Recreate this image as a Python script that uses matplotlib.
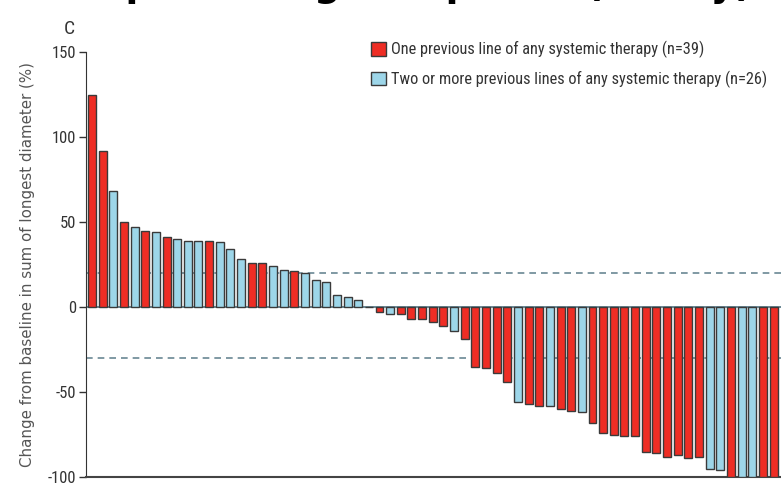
import matplotlib
matplotlib.use("Agg")
import matplotlib.pyplot as plt
import numpy as np
from matplotlib import font_manager

# best change from baseline per patient, sorted (waterfall)
change_pct = [
    125, 92, 68, 50, 47, 45, 44, 41, 40, 39, 39, 39, 38,
    34, 28, 26, 26, 24, 22, 21, 20, 16, 15, 7, 6, 4,
    0, -3, -4, -4, -7, -7, -9, -11, -14, -19, -35, -36, -39,
    -44, -56, -57, -58, -58, -60, -61, -62, -68, -74, -75, -76, -76,
    -85, -86, -88, -87, -89, -88, -95, -96, -100, -100, -100, -100, -100,
]
# 1 = one previous line, 2 = two or more previous lines
prior_lines = [int(c) for c in (
    "1121212122212"
    "2211221222222"
    "1121111121111"
    "1211211211111"
    "1111112212211"
)]

group_labels = {
    1: "One previous line of any systemic therapy (n=39)",
    2: "Two or more previous lines of any systemic therapy (n=26)",
}
group_colors = {1: "#ee2d24", 2: "#9dd6e9"}
reference_lines = [20, -30]
y_ticks = [150, 100, 50, 0, -50, -100]


def pick_font(names):
    for name in names:
        try:
            font_manager.findfont(name, fallback_to_default=False)
            return name
        except ValueError:
            continue
    return "DejaVu Sans"


narrow = pick_font(["Liberation Sans Narrow", "Arial Narrow", "Roboto Condensed"])
text_grey = "#333333"
line_grey = "#6a8794"

x = np.arange(len(change_pct))
values = np.array(change_pct)
groups = np.array(prior_lines)

fig = plt.figure(figsize=(7.81, 4.92), dpi=100)
ax = fig.add_axes([86 / 781, 1 - 477 / 492, 1 - 86 / 781, (477 - 52) / 492])

for y in reference_lines:
    ax.axhline(y, color=line_grey, linestyle=(0, (4, 3)), linewidth=1.2, zorder=1)
ax.axhline(0, color=line_grey, linewidth=1.4, zorder=1)

for g in (1, 2):
    mask = groups == g
    ax.bar(
        x[mask],
        values[mask],
        width=0.75,
        color=group_colors[g],
        edgecolor="#3a3a3a",
        linewidth=1.0,
        label=group_labels[g],
        zorder=3,
    )

ax.set_xlim(-0.56, 64.7)
ax.set_ylim(-100, 150)
ax.set_yticks(y_ticks)
ax.set_yticklabels([str(t) for t in y_ticks], family=narrow, fontsize=12, color=text_grey)
ax.set_xticks([])
ax.tick_params(axis="y", length=5, width=1, color=text_grey, pad=2)

for side in ("top", "right"):
    ax.spines[side].set_visible(False)
ax.spines["left"].set_color(text_grey)
ax.spines["bottom"].set_color("#444444")
ax.spines["bottom"].set_linewidth(1.5)

ax.set_ylabel(
    "Change from baseline in sum of longest diameter (%)",
    fontsize=10.8,
    color="#555555",
    labelpad=9,
)

ax.legend(
    loc="upper left",
    bbox_to_anchor=(371 / 781, 1 - 41 / 492),
    bbox_transform=fig.transFigure,
    frameon=False,
    prop={"family": narrow, "size": 11.8},
    labelcolor=text_grey,
    handlelength=0.9,
    handleheight=0.9,
    handletextpad=0.35,
    labelspacing=0.75,
    borderpad=0,
    borderaxespad=0,
)

fig.text(64 / 781, 1 - 29 / 492, "C", family=narrow, fontsize=14, color=text_grey, va="center")
# panel heading above, cropped at the top edge of the picture
fig.text(752 / 781, 1 + 4 / 492, "Best percentage response (safety)",
         fontsize=27, fontweight="bold", color="black", ha="right", va="baseline")

fig.savefig("out.png", dpi=100)
